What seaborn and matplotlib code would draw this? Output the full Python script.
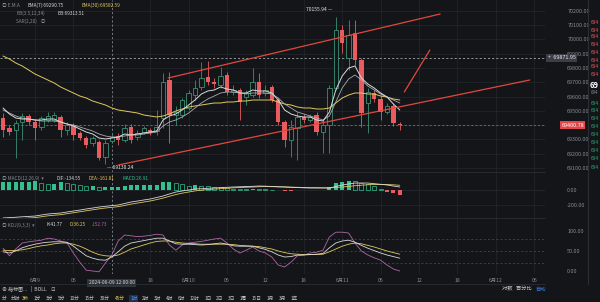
import numpy as np
import pandas as pd
import matplotlib
matplotlib.use("Agg")
import matplotlib.pyplot as plt
import seaborn as sns

# ---------------- data ----------------
opens = [69450, 69380, 69366, 69422, 69464, 69422, 69387, 69436, 69436, 69457,
         69366, 69401, 69345, 69310, 69275, 69282, 69177, 69289, 69324, 69296,
         69387, 69317, 69352, 69366, 69359, 69450, 69716, 69471, 69471, 69520,
         69611, 69667, 69737, 69702, 69681, 69751, 69632, 69646, 69597, 69611,
         69702, 69625, 69667, 69576, 69422, 69296, 69380, 69457, 69436, 69471,
         69352, 69401, 69660, 70066, 69870, 70045, 69856, 69555, 69625, 69583,
         69492, 69534, 69408]
closes = [69366, 69352, 69415, 69464, 69422, 69380, 69450, 69464, 69471, 69366,
          69401, 69331, 69310, 69261, 69310, 69170, 69275, 69317, 69296, 69380,
          69296, 69345, 69380, 69345, 69387, 69702, 69471, 69492, 69576, 69625,
          69660, 69730, 69702, 69688, 69744, 69632, 69646, 69562, 69625, 69702,
          69611, 69646, 69576, 69422, 69296, 69387, 69457, 69436, 69457, 69352,
          69401, 69660, 70066, 69975, 70031, 69856, 69485, 69632, 69583, 69492,
          69534, 69415, 69401]
highs = [69485, 69401, 69436, 69485, 69478, 69443, 69464, 69492, 69492, 69471,
         69422, 69415, 69359, 69324, 69324, 69296, 69296, 69338, 69345, 69408,
         69408, 69366, 69394, 69380, 69506, 69765, 69772, 69534, 69590, 69646,
         69716, 69842, 69849, 69730, 69807, 69772, 69681, 69660, 69646, 69800,
         69765, 69681, 69681, 69590, 69436, 69436, 69492, 69478, 69478, 69492,
         69436, 69681, 70156, 70101, 70136, 70136, 69870, 69660, 69646, 69611,
         69555, 69555, 69422]
lows = [69317, 69331, 69170, 69296, 69401, 69296, 69366, 69422, 69422, 69317,
        69331, 69296, 69296, 69240, 69254, 69156, 69130, 69275, 69261, 69282,
        69275, 69296, 69338, 69331, 69331, 69380, 69275, 69401, 69450, 69506,
        69576, 69646, 69681, 69660, 69660, 69611, 69611, 69436, 69541, 69597,
        69590, 69604, 69562, 69401, 69247, 69177, 69156, 69415, 69422, 69331,
        69205, 69205, 69646, 69905, 69786, 69821, 69387, 69345, 69562, 69436,
        69478, 69394, 69366]
ema7 = [69520, 69478, 69450, 69443, 69443, 69436, 69436, 69443, 69443, 69422,
        69408, 69394, 69373, 69352, 69338, 69310, 69303, 69310, 69317, 69338,
        69331, 69338, 69345, 69352, 69359, 69436, 69464, 69478, 69506, 69541,
        69576, 69618, 69639, 69646, 69667, 69653, 69646, 69625, 69625, 69646,
        69639, 69639, 69625, 69576, 69506, 69478, 69464, 69457, 69457, 69436,
        69429, 69492, 69646, 69744, 69800, 69814, 69730, 69688, 69660, 69625,
        69597, 69548, 69506]
boll_mid = [69506, 69485, 69464, 69450, 69443, 69436, 69429, 69429, 69429, 69422,
            69408, 69401, 69387, 69373, 69359, 69338, 69324, 69317, 69317, 69324,
            69331, 69331, 69338, 69345, 69352, 69394, 69422, 69436, 69457, 69485,
            69520, 69555, 69583, 69604, 69625, 69632, 69632, 69625, 69618, 69625,
            69625, 69625, 69618, 69590, 69548, 69520, 69492, 69478, 69464, 69450,
            69436, 69464, 69562, 69660, 69723, 69751, 69716, 69674, 69646, 69618,
            69597, 69576, 69555]
ema30 = [69884, 69863, 69835, 69814, 69786, 69758, 69737, 69716, 69695, 69667,
         69646, 69625, 69604, 69590, 69569, 69555, 69541, 69520, 69506, 69499,
         69492, 69485, 69471, 69464, 69457, 69464, 69478, 69499, 69513, 69527,
         69534, 69541, 69548, 69555, 69555, 69562, 69562, 69569, 69569, 69576,
         69576, 69576, 69576, 69562, 69548, 69541, 69527, 69520, 69520, 69513,
         69513, 69520, 69555, 69590, 69611, 69625, 69625, 69618, 69618, 69604,
         69597, 69583, 69576]
macd_dif = [-373, -368, -363, -357, -352, -347, -333, -320, -313, -307,
            -293, -280, -267, -253, -240, -227, -217, -208, -200, -180,
            -160, -147, -133, -120, -100, -80, -53, -27, -13, 0,
            13, 17, 23, 27, 31, 36, 40, 43, 47, 49,
            53, 51, 47, 43, 40, 36, 33, 29, 27, 27,
            27, 27, 47, 67, 80, 93, 93, 93, 84, 76,
            67, 53, 40]
macd_dea = [-395, -390, -385, -380, -374, -368, -356, -344, -336, -329,
            -316, -303, -290, -277, -264, -251, -240, -231, -222, -206,
            -188, -174, -160, -146, -128, -108, -84, -60, -42, -27,
            -12, -2, 6, 12, 18, 24, 29, 33, 37, 40,
            44, 46, 45, 43, 41, 38, 36, 33, 31, 30,
            29, 28, 33, 40, 48, 57, 64, 70, 73, 74,
            73, 69, 63]
macd_hist = [107, 107, 107, 107, 107, 120, 93, 80, 80, 107,
             93, 80, 67, 53, 53, 40, 40, 40, 40, 53,
             67, 67, 67, 67, 67, 107, 107, 93, 80, 53,
             67, 60, 50, 40, 35, 25, 20, 15, 12, 15,
             10, 8, 5, -5, -10, -8, -5, -3, -3, -2,
             5, 40, 90, 110, 120, 115, 90, 80, 50, 20,
             -20, -45, -60]
kdj_k = [48, 45, 50, 58, 63, 67, 70, 72, 73, 73,
         72, 62, 50, 38, 32, 28, 27, 35, 48, 62,
         70, 73, 76, 79, 82, 82, 75, 68, 67, 67,
         66, 65, 66, 68, 70, 67, 63, 62, 62, 62,
         58, 54, 48, 40, 35, 36, 40, 40, 41, 42,
         44, 58, 70, 75, 77, 72, 64, 57, 51, 45,
         40, 36, 32]
kdj_d = [52, 51, 51, 53, 56, 60, 63, 65, 68, 70,
         70, 67, 62, 55, 47, 41, 38, 37, 40, 47,
         55, 60, 65, 70, 74, 75, 75, 72, 70, 69,
         68, 67, 67, 67, 67, 67, 66, 64, 63, 62,
         61, 58, 55, 50, 46, 43, 42, 41, 41, 41,
         42, 48, 55, 62, 67, 70, 68, 64, 60, 55,
         50, 46, 42]
kdj_j = [57, 38, 55, 70, 73, 75, 77, 82, 80, 75,
         70, 45, 22, 2, 0, -2, 20, 40, 75, 90,
         88, 86, 87, 89, 92, 90, 65, 52, 65, 70,
         72, 74, 77, 80, 82, 70, 55, 45, 52, 60,
         50, 45, 35, 15, 10, 22, 38, 40, 45, 47,
         52, 85, 97, 97, 95, 70, 50, 40, 33, 27,
         15, 5, 0]

first_hour_index = 5           # candle index of 6月9 00:00 (1h candles)
tick_hours = [0, 6, 18, 24, 30, 36, 42, 48, 54, 60, 66, 72, 78]
tick_labels = ["6月9", "06", "18", "6月10", "06", "12", "18", "6月11", "06", "12", "18", "6月12", "06"]
price_ticks = [69100, 69200, 69300, 69400, 69500, 69600, 69700, 69800, 69900, 70000, 70100, 70200]
cross_hour = 12
cross_label = "2024-06-09 12:00:00"
cross_price = 69871.95
last_price = 69400.78
high_mark = 70155.94
low_mark = 69130.24
# hand-drawn trend lines: (candle index, price) pairs
trend_upper = ([25.8, 68.3], [69730, 70178])
trend_lower = ([18.0, 82.3], [69121, 69716])
trend_steep = ([62.7, 66.7], [69632, 69926])

# ---------------- style ----------------
BG = "#131519"
GRID = "#23272d"
TXT = "#858a93"
RED = "#ea5b5f"
GREEN = "#3d8f72"
MINT = "#34c08e"
YEL = "#e3c75f"
WHITE = "#d9d9d9"
PINK = "#b066a8"

sns.set_theme(style="dark")
plt.rcParams["font.family"] = ["Noto Sans CJK SC", "DejaVu Sans"]

W, H = 600, 302
fig = plt.figure(figsize=(6, 3.02), dpi=100)
fig.patch.set_facecolor(BG)

def pax(x0, y0, x1, y1):
    return fig.add_axes([x0 / W, 1 - y1 / H, (x1 - x0) / W, (y1 - y0) / H])

CHART_R = 545
ax = pax(0, 0, CHART_R, 172)
axm = pax(0, 172, CHART_R, 218)
axk = pax(0, 218, CHART_R, 274)

n = len(closes)
idx = np.arange(n)
xl = (-0.47, (CHART_R - 3) / 6.4)
df = pd.DataFrame(dict(i=idx, o=opens, c=closes, h=highs, l=lows, ema7=ema7,
                       boll=boll_mid, ema30=ema30, dif=macd_dif, dea=macd_dea,
                       hist=macd_hist, k=kdj_k, d=kdj_d, j=kdj_j))
tick_pos = [first_hour_index + h for h in tick_hours]
cross_x = first_hour_index + cross_hour

for a in (ax, axm, axk):
    a.set_facecolor(BG)
    a.set_xlim(*xl)
    a.set_xticks(tick_pos)
    a.tick_params(axis="both", length=0, labelsize=3.9, colors=TXT, pad=1)
    a.grid(True, color=GRID, lw=0.5)
    for s in a.spines.values():
        s.set_visible(False)
    a.yaxis.tick_right()
    a.axvline(cross_x, color="#9aa0a8", lw=0.5, ls=(0, (3, 3)), zorder=1)

# ---- main price panel
ax.set_ylim(69072, 70276)
ax.set_yticks(price_ticks)
ax.set_yticklabels(["" if p == 69400 else f"{p:.2f}" for p in price_ticks])
ax.tick_params(axis="y", pad=16)
ax.set_xticklabels([])
up = df.c >= df.o
ax.vlines(df.i[up], df.l[up], df.h[up], color=GREEN, lw=0.6, zorder=3)
ax.vlines(df.i[~up], df.l[~up], df.h[~up], color=RED, lw=0.6, zorder=3)
body_lo = np.minimum(df.o, df.c)
body_h = np.maximum(np.abs(df.c - df.o), 4)
ax.bar(df.i[up], body_h[up], bottom=body_lo[up], width=0.66, facecolor=BG,
       edgecolor=GREEN, lw=0.6, zorder=4)
ax.bar(df.i[~up], body_h[~up], bottom=body_lo[~up], width=0.66, color=RED,
       lw=0, zorder=4)
sns.lineplot(data=df, x="i", y="ema30", ax=ax, color=YEL, lw=0.7, zorder=5)
sns.lineplot(data=df, x="i", y="boll", ax=ax, color="#a9abb0", lw=0.6, zorder=5)
sns.lineplot(data=df, x="i", y="ema7", ax=ax, color=WHITE, lw=0.7, zorder=5)
for tl in (trend_upper, trend_lower, trend_steep):
    ax.plot(tl[0], tl[1], color="#e0483f", lw=0.9, zorder=6)
ax.axhline(cross_price, color="#c8c8c8", lw=0.5, ls=(0, (3, 3)), zorder=2)
ax.axhline(last_price, color=RED, lw=0.5, ls=(0, (3, 3)), zorder=2)
ax.set_xlabel(""); ax.set_ylabel("")
# high/low markers
hi_i = int(np.argmax(highs)); lo_i = int(np.argmin(lows))
ax.annotate(f"{high_mark:.2f} —", xy=(hi_i, high_mark), xytext=(hi_i - 0.6, high_mark + 55),
            ha="right", va="center", fontsize=3.6, color="#e8e8e8")
ax.annotate(f"— {low_mark:.2f}", xy=(lo_i, low_mark), xytext=(lo_i + 0.3, low_mark - 30),
            ha="left", va="center", fontsize=3.6, color="#e8e8e8")
# price boxes on the right scale
ax.text(1.005, cross_price, f"+  {cross_price:.2f}", transform=ax.get_yaxis_transform(),
        ha="left", va="center", fontsize=3.9, color="#e8e8e8",
        bbox=dict(boxstyle="square,pad=0.25", fc="#3a3f47", ec="none"), clip_on=False, zorder=10)
ax.text(1.03, last_price, f"{last_price:.2f}", transform=ax.get_yaxis_transform(),
        ha="left", va="center", fontsize=3.9, color="white",
        bbox=dict(boxstyle="square,pad=0.25", fc="#e2474c", ec="none"), clip_on=False, zorder=10)

# header texts
hdr = dict(fontsize=3.4, va="center", transform=ax.transAxes)
y1 = 1 - 5.5 / 172; y2 = 1 - 13.5 / 172; y3 = 1 - 21.5 / 172
ax.text(0.004, y1, "◎ E.M.A", color=TXT, **hdr)
ax.text(0.050, y1, "EMA(7):69290.75", color=WHITE, **hdr)
ax.text(0.150, y1, "EMA(30):69582.59", color=YEL, **hdr)
ax.text(0.030, y2, "BB(3.5,12,34)", color=TXT, **hdr)
ax.text(0.105, y2, "BB:69313.51", color=WHITE, **hdr)
ax.text(0.030, y3, "SAR(2,20)    ◎", color=TXT, **hdr)

# ---- MACD panel
axm.set_ylim(-373, 240)
axm.set_yticks([0, -200])
axm.set_yticklabels(["0.00", "-200.00"])
axm.tick_params(axis="y", pad=16)
axm.set_xticklabels([])
hist = np.array(macd_hist, dtype=float)
prev = np.r_[hist[0], hist[:-1]]
pos = hist >= 0
filled = pos & (hist >= prev)
axm.bar(idx[filled], hist[filled], width=0.62, color=MINT, lw=0, zorder=3)
axm.bar(idx[pos & ~filled], hist[pos & ~filled], width=0.62, facecolor=BG,
        edgecolor=MINT, lw=0.5, zorder=3)
axm.bar(idx[~pos], hist[~pos], width=0.62, color=RED, lw=0, zorder=3)
sns.lineplot(data=df, x="i", y="dea", ax=axm, color=YEL, lw=0.6, zorder=4)
sns.lineplot(data=df, x="i", y="dif", ax=axm, color=WHITE, lw=0.6, zorder=4)
axm.set_xlabel(""); axm.set_ylabel("")
axm.axhline(0, color=GRID, lw=0.5)
mh = dict(fontsize=3.4, va="center", transform=axm.transAxes)
my = 1 - 6 / 46
axm.text(0.003, my, "◎ MACD(12,26,9)  ▾", color=TXT, **mh)
axm.text(0.103, my, "DIF:-134.55", color=WHITE, **mh)
axm.text(0.163, my, "DEA:-161.81", color=YEL, **mh)
axm.text(0.225, my, "MACD:26.91", color=MINT, **mh)

# ---- KDJ panel
axk.set_ylim(-7.5, 132.5)
axk.set_yticks([0, 50, 100])
axk.set_yticklabels(["0.00", "50.00", "100.00"])
axk.tick_params(axis="y", pad=16)
axk.grid(False, axis="y")
for lv in (20, 50, 80):
    axk.axhline(lv, color="#4a4e55", lw=0.5, ls=(0, (3, 3)), zorder=1)
sns.lineplot(data=df, x="i", y="j", ax=axk, color=PINK, lw=0.6, zorder=3)
sns.lineplot(data=df, x="i", y="d", ax=axk, color=YEL, lw=0.6, zorder=4)
sns.lineplot(data=df, x="i", y="k", ax=axk, color=WHITE, lw=0.6, zorder=4)
axk.set_xlabel(""); axk.set_ylabel("")
axk.set_xticklabels(tick_labels)
axk.tick_params(axis="x", pad=3, labelsize=3.7)
kh = dict(fontsize=3.4, va="center", transform=axk.transAxes)
ky = 1 - 7 / 56
axk.text(0.003, ky, "◎ KDJ(9,3,3)  ▾", color=TXT, **kh)
axk.text(0.085, ky, "K:41.77", color=WHITE, **kh)
axk.text(0.127, ky, "D:36.25", color=YEL, **kh)
axk.text(0.168, ky, "J:52.73", color=PINK, **kh)
axk.text(cross_x, -0.16, cross_label, transform=axk.get_xaxis_transform(),
         ha="center", va="center", fontsize=3.6, color="#d0d0d0",
         bbox=dict(boxstyle="square,pad=0.3", fc="#2f333a", ec="none"), clip_on=False, zorder=10)

# panel separators
for yy in (172, 218, 284):
    fig.add_artist(plt.Line2D([0, CHART_R / W], [1 - yy / H] * 2, color="#2a2e35", lw=0.6))
fig.add_artist(plt.Line2D([588 / W] * 2, [0.06, 1], color="#2a2e35", lw=0.8))

# bottom toolbar
fig.text(2 / W, 1 - 289 / H, "⊕ 指标图...   |  BOLL    ⊡", fontsize=3.6, color="#c9c9c9", va="center")
fig.text(532 / W, 1 - 289 / H, "对数   百分比", fontsize=3.8, color="#c9c9c9", va="center", ha="right")
fig.text(535 / W, 1 - 289 / H, "自动", fontsize=3.8, color="#3d7bd9", va="center")
periods = ["分", "分时", "3秒", "1分", "3分", "5分", "10分", "15分", "30分", "45分", "1时",
           "2时", "3时", "4时", "6时", "12时", "1日", "2日", "3日", "1周", "15日", "1月", "3月", "1年"]
xx = 2
for p in periods:
    col = "#e3c75f" if p in ("3秒", "45分") else "#c9c9c9"
    if p == "1时":
        fig.text(xx / W, 1 - 298.5 / H, p, fontsize=3.4, color="#4a8ef0", va="center",
                 bbox=dict(boxstyle="square,pad=0.2", fc="#1f3350", ec="none"))
    else:
        fig.text(xx / W, 1 - 298.5 / H, p, fontsize=3.4, color=col, va="center")
    xx += 3.4 * len(p) + 5

# right order-book strip (partial)
for yy in (22, 30, 37, 45, 52, 60, 67, 75):
    fig.text(591 / W, 1 - yy / H, "694", fontsize=3.4, color=RED, va="center")
fig.text(590 / W, 1 - 85 / H, "69", fontsize=5.5, color="white", va="center", fontweight="bold")
fig.text(591 / W, 1 - 93 / H, "694", fontsize=3.2, color=TXT, va="center")
for yy in range(103, 172, 8):
    fig.text(591 / W, 1 - yy / H, "694", fontsize=3.4, color="#2aa774", va="center")

fig.savefig("out.png", dpi=100, facecolor=BG)
